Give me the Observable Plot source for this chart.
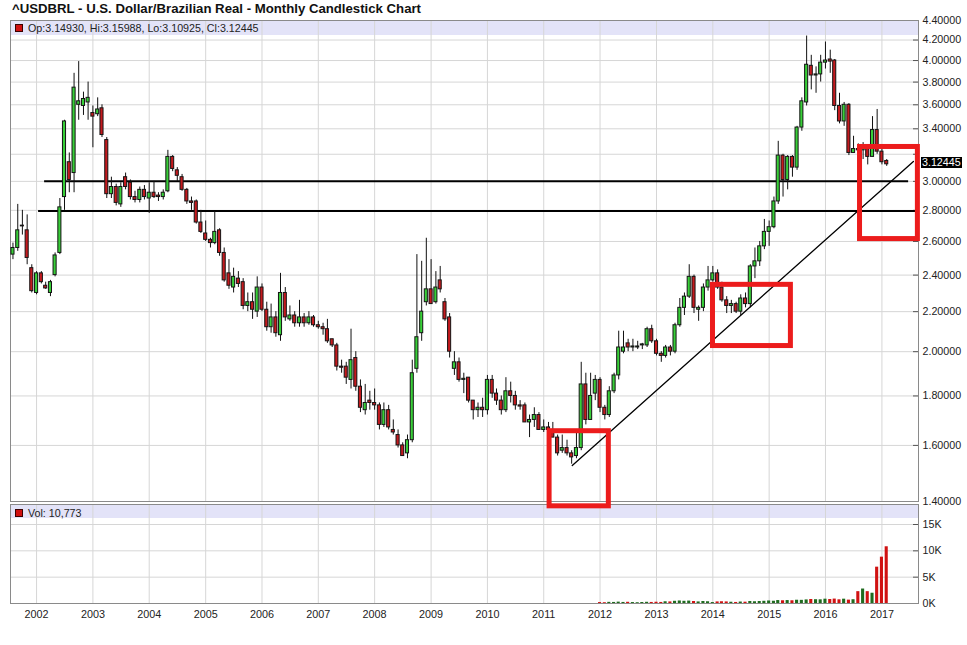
<!DOCTYPE html>
<html>
<head>
<meta charset="utf-8">
<script src="https://cdn.jsdelivr.net/npm/d3@7"></script>
<script src="https://cdn.jsdelivr.net/npm/@observablehq/plot@0.6"></script>
<style>
  html, body { margin: 0; padding: 0; background: #fff; }
  #chart { position: relative; width: 967px; height: 645px; overflow: hidden;
           font-family: "Liberation Sans", Arial, Helvetica, sans-serif; color: #222; }
  #chart svg { position: absolute; left: 0; }
  .title { position: absolute; left: 12px; top: 1px; font-size: 13.2px; font-weight: bold;
           white-space: nowrap; color: #111; }
  .band { position: absolute; left: 10px; width: 908px; background: #e3e3f8; }
  .legend { position: absolute; left: 28px; font-size: 10.7px; white-space: nowrap; color: #222; line-height: 12px; }
  .swatch { position: absolute; left: 15px; width: 6px; height: 6px; background: #d01010; border: 1px solid #3a0000; }
  .last { position: absolute; left: 921px; height: 11px; line-height: 11px; font-size: 10.7px;
          background: #000; color: #fff; padding: 0 1px; white-space: nowrap; }
</style>
</head>
<body>
<div id="chart"></div>
<script>
// ---------------- data ----------------
const firstMonth = "2001-08-01";   // one candle per month from here
const open = [
  2.52, 2.56, 2.70, 2.67, 2.44,                                            // 2001 Aug-Dec
  2.30, 2.41, 2.34, 2.30, 2.40, 2.53, 2.89, 3.14, 3.06, 3.60, 3.59, 3.62,  // 2002
  3.53, 3.52, 3.57, 3.31, 2.91, 2.96, 2.84, 3.03, 2.99, 2.89, 2.87, 2.94,  // 2003
  2.88, 2.92, 2.90, 2.89, 2.93, 3.18, 3.08, 3.03, 2.94, 2.86, 2.86, 2.72,  // 2004
  2.65, 2.61, 2.59, 2.67, 2.53, 2.41, 2.33, 2.38, 2.36, 2.23, 2.25, 2.20,  // 2005
  2.33, 2.21, 2.12, 2.17, 2.08, 2.30, 2.16, 2.18, 2.14, 2.17, 2.14, 2.17,  // 2006
  2.13, 2.12, 2.11, 2.06, 2.03, 1.93, 1.93, 1.87, 1.97, 1.84, 1.74, 1.78,  // 2007
  1.77, 1.76, 1.68, 1.74, 1.66, 1.64, 1.60, 1.57, 1.62, 1.92, 2.09, 2.25,  // 2008
  2.32, 2.25, 2.37, 2.25, 2.17, 1.92, 1.95, 1.87, 1.88, 1.78, 1.74, 1.75,  // 2009
  1.74, 1.87, 1.81, 1.78, 1.74, 1.82, 1.80, 1.76, 1.76, 1.69, 1.70, 1.72,  // 2010
  1.66, 1.67, 1.66, 1.63, 1.58, 1.59, 1.57, 1.56, 1.59, 1.85, 1.70, 1.81,  // 2011
  1.87, 1.75, 1.72, 1.82, 1.89, 2.00, 2.04, 2.02, 2.02, 2.03, 2.03, 2.11,  // 2012
  2.05, 1.99, 1.98, 2.02, 2.00, 2.13, 2.22, 2.28, 2.39, 2.21, 2.22, 2.33,  // 2013
  2.37, 2.41, 2.33, 2.26, 2.23, 2.24, 2.20, 2.27, 2.24, 2.45, 2.48, 2.57,  // 2014
  2.66, 2.69, 2.86, 3.19, 3.01, 3.18, 3.10, 3.41, 3.62, 3.95, 3.86, 3.87,  // 2015
  3.98, 4.01, 4.00, 3.59, 3.46, 3.60, 3.21, 3.24, 3.23, 3.25, 3.18, 3.39,  // 2016
  3.22, 3.14930                                                            // 2017 Jan-Feb
];
const high = [
  2.59, 2.84, 2.80, 2.77, 2.46,
  2.42, 2.42, 2.36, 2.37, 2.53, 2.88, 3.47, 3.21, 3.88, 3.99, 3.71, 3.80,
  3.59, 3.66, 3.60, 3.33, 3.03, 2.98, 2.99, 3.06, 3.01, 2.93, 2.96, 2.97,
  2.99, 3.00, 2.92, 2.94, 3.23, 3.19, 3.10, 3.05, 2.95, 2.89, 2.87, 2.80,
  2.73, 2.62, 2.79, 2.68, 2.56, 2.49, 2.44, 2.42, 2.38, 2.30, 2.30, 2.39,
  2.35, 2.25, 2.24, 2.20, 2.41, 2.33, 2.23, 2.20, 2.26, 2.19, 2.20, 2.18,
  2.15, 2.14, 2.16, 2.06, 2.04, 1.96, 1.95, 2.11, 2.00, 1.87, 1.85, 1.82,
  1.83, 1.77, 1.77, 1.76, 1.70, 1.66, 1.61, 1.64, 1.96, 2.52, 2.48, 2.62,
  2.49, 2.42, 2.45, 2.27, 2.19, 2.00, 1.97, 1.90, 1.88, 1.78, 1.77, 1.79,
  1.89, 1.89, 1.83, 1.80, 1.88, 1.86, 1.82, 1.78, 1.77, 1.72, 1.75, 1.73,
  1.70, 1.69, 1.69, 1.64, 1.64, 1.62, 1.58, 1.65, 1.95, 1.90, 1.90, 1.89,
  1.88, 1.76, 1.84, 1.90, 2.10, 2.10, 2.06, 2.06, 2.05, 2.04, 2.12, 2.13,
  2.06, 2.00, 2.03, 2.03, 2.14, 2.27, 2.30, 2.46, 2.40, 2.23, 2.35, 2.45,
  2.45, 2.43, 2.36, 2.28, 2.26, 2.25, 2.29, 2.30, 2.46, 2.56, 2.60, 2.74,
  2.73, 2.89, 3.30, 3.20, 3.19, 3.19, 3.42, 3.66, 4.24, 4.05, 3.94, 4.05,
  4.18, 4.10, 4.01, 3.70, 3.62, 3.61, 3.34, 3.28, 3.29, 3.26, 3.50, 3.56,
  3.27, 3.15988
];
const low = [
  2.49, 2.54, 2.64, 2.46, 2.30,
  2.29, 2.35, 2.32, 2.28, 2.39, 2.52, 2.80, 2.92, 2.92, 3.47, 3.51, 3.47,
  3.25, 3.50, 3.33, 2.88, 2.88, 2.83, 2.82, 2.94, 2.87, 2.85, 2.85, 2.87,
  2.78, 2.88, 2.86, 2.87, 2.92, 3.07, 3.00, 2.93, 2.84, 2.80, 2.71, 2.65,
  2.60, 2.56, 2.58, 2.51, 2.36, 2.32, 2.30, 2.33, 2.21, 2.20, 2.16, 2.17,
  2.20, 2.10, 2.09, 2.07, 2.05, 2.15, 2.15, 2.12, 2.12, 2.12, 2.13, 2.12,
  2.11, 2.08, 2.04, 2.02, 1.91, 1.90, 1.85, 1.83, 1.82, 1.73, 1.72, 1.74,
  1.74, 1.66, 1.67, 1.66, 1.64, 1.59, 1.56, 1.55, 1.61, 1.90, 2.05, 2.23,
  2.24, 2.24, 2.30, 2.15, 1.97, 1.89, 1.86, 1.81, 1.77, 1.70, 1.71, 1.71,
  1.72, 1.79, 1.76, 1.72, 1.73, 1.77, 1.74, 1.74, 1.69, 1.63, 1.67, 1.66,
  1.65, 1.65, 1.63, 1.56, 1.57, 1.56, 1.53, 1.55, 1.58, 1.68, 1.70, 1.78,
  1.73, 1.70, 1.71, 1.81, 1.87, 1.99, 2.00, 2.00, 2.01, 2.01, 2.02, 2.04,
  1.98, 1.95, 1.97, 1.98, 1.99, 2.12, 2.18, 2.27, 2.19, 2.15, 2.20, 2.31,
  2.36, 2.32, 2.25, 2.19, 2.19, 2.19, 2.18, 2.22, 2.22, 2.38, 2.45, 2.55,
  2.57, 2.68, 2.84, 2.89, 2.94, 3.03, 3.08, 3.38, 3.59, 3.73, 3.70, 3.80,
  3.92, 3.88, 3.55, 3.44, 3.42, 3.19, 3.21, 3.12, 3.16, 3.12, 3.18, 3.20,
  3.12, 3.10925
];
const close = [
  2.56, 2.67, 2.695, 2.50, 2.31,
  2.41, 2.36, 2.325, 2.36, 2.515, 2.82, 3.46, 3.01, 3.75, 3.63, 3.65, 3.66,
  3.50, 3.56, 3.35, 2.91, 2.96, 2.85, 2.96, 2.96, 2.89, 2.87, 2.94, 2.89,
  2.92, 2.89, 2.89, 2.92, 3.18, 3.09, 3.04, 2.94, 2.86, 2.85, 2.72, 2.66,
  2.61, 2.59, 2.66, 2.53, 2.37, 2.34, 2.39, 2.35, 2.23, 2.25, 2.21, 2.33,
  2.21, 2.12, 2.17, 2.09, 2.30, 2.17, 2.18, 2.14, 2.17, 2.14, 2.17, 2.13,
  2.12, 2.11, 2.05, 2.03, 1.93, 1.925, 1.88, 1.96, 1.84, 1.75, 1.77, 1.77,
  1.76, 1.68, 1.74, 1.67, 1.65, 1.60, 1.56, 1.62, 1.90, 2.07, 2.20, 2.32,
  2.24, 2.33, 2.32, 2.16, 2.00, 1.95, 1.87, 1.875, 1.78, 1.74, 1.75, 1.74,
  1.87, 1.81, 1.78, 1.74, 1.82, 1.80, 1.76, 1.755, 1.69, 1.70, 1.72, 1.66,
  1.67, 1.66, 1.63, 1.57, 1.59, 1.57, 1.555, 1.59, 1.85, 1.70, 1.80, 1.87,
  1.75, 1.72, 1.82, 1.89, 2.02, 2.02, 2.02, 2.025, 2.025, 2.035, 2.11, 2.05,
  1.99, 1.98, 2.02, 2.00, 2.13, 2.22, 2.28, 2.39, 2.22, 2.22, 2.33, 2.37,
  2.41, 2.33, 2.26, 2.23, 2.24, 2.20, 2.27, 2.24, 2.45, 2.48, 2.57, 2.66,
  2.69, 2.86, 3.19, 3.01, 3.18, 3.10, 3.41, 3.63, 3.96, 3.86, 3.87, 3.98,
  4.00, 3.99, 3.59, 3.46, 3.60, 3.21, 3.24, 3.23, 3.25, 3.18, 3.39, 3.22,
  3.14, 3.12445
];

const volumeStart = "2012-01-01";  // monthly volume from here
const volume = [
  180, 150, 220, 200, 260, 200, 230, 180, 150, 190, 230, 200,       // 2012
  240, 200, 330, 300, 420, 480, 420, 460, 380, 300, 380, 330,       // 2013
  180, 300, 330, 300, 240, 200, 280, 250, 380, 330, 380, 420,       // 2014
  480, 430, 560, 520, 560, 520, 620, 600, 680, 760, 720, 700,       // 2015
  820, 760, 840, 700, 820, 640, 720, 2250, 2750, 2250, 1950, 6900,  // 2016
  8800, 10773                                                       // 2017
];

const priceTicks = [1.4, 1.6, 1.8, 2.0, 2.2, 2.4, 2.6, 2.8, 3.0, 3.2, 3.4, 3.6, 3.8, 4.0, 4.2, 4.4];
const volumeTicks = [0, 5000, 10000, 15000];
const yearTicks = ["2002","2003","2004","2005","2006","2007","2008","2009",
                   "2010","2011","2012","2013","2014","2015","2016","2017"];
const xDomain = ["2001-07-16", "2017-08-26"];
const priceDomain = [1.4, 4.4];
const volumeDomain = [0, 18800];

// drawn annotations (support lines, trend line, highlight boxes)
const supportPrice = [3.0, 2.795];
const supportFrom  = ["2002-02-22", "2002-01-14"];
const supportTo    = ["2017-06-23", "2017-08-26"];
const trendDates   = ["2011-07-05", "2017-07-24"];
const trendPrices  = [1.525, 3.146];
const boxFrom  = ["2011-02-08", "2014-01-02", "2016-08-12"];
const boxTo    = ["2012-02-27", "2015-05-22", "2017-08-22"];
const boxLow   = [1.384, 2.027, 2.615];
const boxHigh  = [1.655, 2.345, 3.256];

// ---------------- tables ----------------
const d0 = new Date(firstMonth);
const candles = open.map((o, i) => ({
  date: d3.utcMonth.offset(d0, i), open: o, high: high[i], low: low[i], close: close[i]
}));
const v0 = new Date(volumeStart);
const volRows = volume.map((v, i) => {
  const date = d3.utcMonth.offset(v0, i);
  const c = candles.find(k => +k.date === +date);
  return {date, volume: v, up: c ? c.close >= c.open : true};
});
const years = yearTicks.map(y => new Date(y + "-01-01"));
const supports = supportPrice.map((p, i) => ({price: p, from: new Date(supportFrom[i]), to: new Date(supportTo[i])}));
const trend = trendDates.map((d, i) => ({date: new Date(d), price: trendPrices[i]}));
const boxes = boxFrom.map((d, i) => ({from: new Date(d), to: new Date(boxTo[i]), lo: boxLow[i], hi: boxHigh[i]}));
const xdom = xDomain.map(d => new Date(d));
const last = candles[candles.length - 1];
// the last-price marker hides the tick label right next to it
const priceLabelTicks = priceTicks.filter(t => Math.abs(Math.log(t / last.close)) > 0.03);

const GREEN = "#38cf38", RED = "#c41a1e", VGREEN = "#1f6b1f", VRED = "#d01212";
const GRID = "#d6d6d6";
const halfW = 10; // days either side of month start
const x1 = d => d3.utcDay.offset(d.date, -halfW);
const x2 = d => d3.utcDay.offset(d.date, halfW);
const fmt5 = d3.format(".5f");
const style = {background: "transparent", fontFamily: '"Liberation Sans", Arial, sans-serif',
               fontSize: "10.7px", color: "#222", overflow: "visible"};

// ---------------- HTML decorations (behind charts) ----------------
const root = document.getElementById("chart");
function add(cls, css, text) {
  const el = document.createElement("div");
  el.className = cls;
  Object.assign(el.style, css);
  if (text != null) el.textContent = text;
  root.appendChild(el);
  return el;
}
add("band", {top: "20px", height: "15px"});
add("band", {top: "504px", height: "14px"});

// ---------------- volume chart ----------------
const volChart = Plot.plot({
  width: 967, height: 145,
  marginTop: 4, marginBottom: 42, marginLeft: 10, marginRight: 49,
  style,
  x: {type: "utc", domain: xdom, label: null},
  y: {domain: volumeDomain, label: null},
  marks: [
    Plot.gridY(volumeTicks, {stroke: GRID, strokeOpacity: 1}),
    Plot.gridX(years, {stroke: GRID, strokeOpacity: 1}),
    Plot.ruleY(volumeTicks, {insetLeft: 903, stroke: "#555"}),
    Plot.rect(volRows, {x1, x2, y1: 0, y2: "volume", fill: d => d.up ? VGREEN : VRED}),
    Plot.frame({stroke: "#8a8a8a"}),
    Plot.axisY(volumeTicks, {anchor: "right", label: null, tickSize: 0, tickPadding: 4, tickFormat: d => d / 1000 + "K"}),
    Plot.axisX(years, {anchor: "bottom", label: null, tickSize: 0, tickPadding: 7, tickFormat: d3.utcFormat("%Y"), fontSize: "10.8px"})
  ]
});
volChart.style.top = "500px";
root.appendChild(volChart);

// ---------------- price chart ----------------
const priceChart = Plot.plot({
  width: 967, height: 520,
  marginTop: 20, marginBottom: 19, marginLeft: 10, marginRight: 49,
  style,
  x: {type: "utc", domain: xdom, axis: null, label: null},
  y: {type: "log", domain: priceDomain, label: null},
  marks: [
    Plot.gridY(priceTicks, {stroke: GRID, strokeOpacity: 1}),
    Plot.gridX(years, {stroke: GRID, strokeOpacity: 1}),
    Plot.ruleY(priceTicks, {insetLeft: 903, stroke: "#555"}),
    Plot.frame({stroke: "#8a8a8a"}),
    Plot.ruleY(supports, {y: "price", x1: "from", x2: "to", stroke: "#000", strokeWidth: 2}),
    Plot.ruleX(candles, {x: "date", y1: "low", y2: "high", stroke: "#111", strokeWidth: 1}),
    Plot.rect(candles, {x1, x2, y1: "open", y2: "close",
      fill: d => d.close >= d.open ? GREEN : RED, stroke: "#151515", strokeWidth: 1}),
    Plot.line(trend, {x: "date", y: "price", stroke: "#000", strokeWidth: 1.3}),
    Plot.rect(boxes, {x1: "from", x2: "to", y1: "lo", y2: "hi", fill: "none", stroke: "#ec1c1c", strokeWidth: 5}),
    Plot.axisY(priceLabelTicks, {anchor: "right", label: null, tickSize: 0, tickPadding: 4, tickFormat: fmt5})
  ]
});
priceChart.style.top = "0px";
root.appendChild(priceChart);

// ---------------- text overlays ----------------
add("title", {}, "^USDBRL - U.S. Dollar/Brazilian Real - Monthly Candlestick Chart");
add("swatch", {top: "23.5px"});
add("legend", {top: "22px"},
  `Op:${fmt5(last.open)}, Hi:${fmt5(last.high)}, Lo:${fmt5(last.low)}, Cl:${fmt5(last.close)}`);
add("swatch", {top: "508.5px"});
add("legend", {top: "506.5px"}, `Vol: ${d3.format(",")(volume[volume.length - 1])}`);
const yLast = priceChart.scale("y").apply(last.close);
add("last", {top: (yLast - 6.5) + "px"}, fmt5(last.close));
</script>
</body>
</html>
